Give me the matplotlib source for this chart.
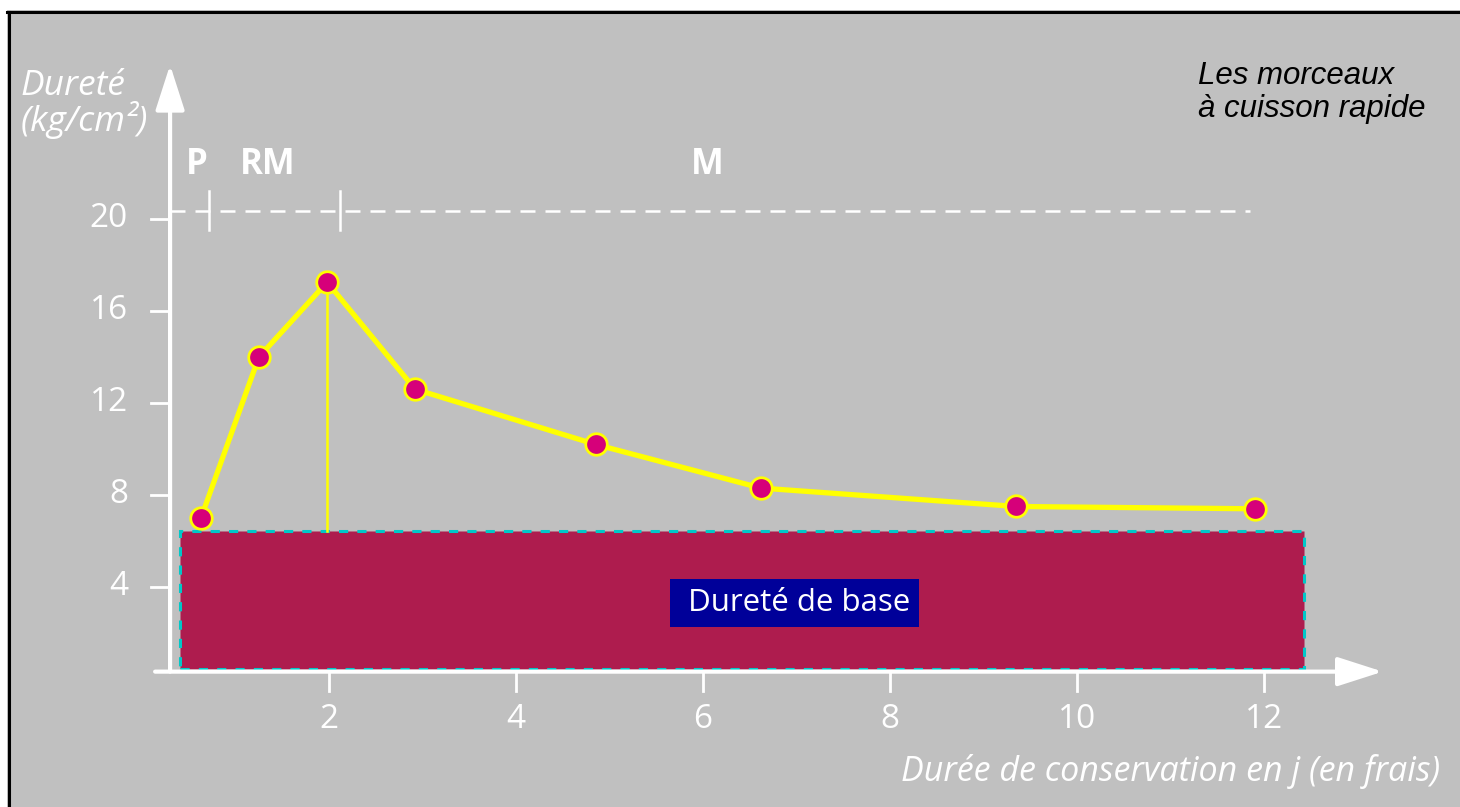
import matplotlib.pyplot as plt
from matplotlib.patches import Rectangle

# data
jours = [0.63, 1.25, 1.98, 2.92, 4.85, 6.62, 9.35, 11.9]
durete = [7.0, 14.0, 17.25, 12.6, 10.2, 8.3, 7.5, 7.4]
xticks = [2, 4, 6, 8, 10, 12]
yticks = [4, 8, 12, 16, 20]
base_x = [0.41, 12.43]
base_y = [0.45, 6.45]
phases = ["P", "RM", "M"]
phase_x = [0.59, 1.34, 6.04]
phase_limits = [0.72, 2.12]

bg = "#c0c0c0"
plt.rcParams["font.family"] = ["Open Sans", "DejaVu Sans"]

fig = plt.figure(figsize=(14.6, 8.07), dpi=100)
fig.patch.set_facecolor("white")
ax = fig.add_axes([0, 0, 1, 1])
ax.set_xlim(-1.519, 14.096)
ax.set_ylim(-5.565, 29.52)
ax.axis("off")

# grey panel with black border (left + top)
ax.add_patch(Rectangle((7 / 1460, 0), 1, 1 - 10 / 807, transform=fig.transFigure,
                       facecolor=bg, edgecolor="none", zorder=0))
ax.plot([8.5 / 1460, 8.5 / 1460], [0, 1 - 11.5 / 807], transform=fig.transFigure,
        color="black", lw=2.2, zorder=1)
ax.plot([7 / 1460, 1], [1 - 11.5 / 807, 1 - 11.5 / 807], transform=fig.transFigure,
        color="black", lw=2.2, zorder=1)

x0, y0 = 0.3, 0.32
# base hardness block
ax.add_patch(Rectangle((base_x[0], base_y[0]), base_x[1] - base_x[0], base_y[1] - base_y[0],
                       facecolor="#ae1c4e", edgecolor="#00c8c8", lw=2.2, ls=(0, (3, 3)), zorder=2))
ax.text(6.98, 3.3, " Dureté de base", color="white", fontsize=22.5, ha="center", va="center",
        bbox=dict(boxstyle="square,pad=0.3", facecolor="#000099", edgecolor="none"), zorder=3)

# axes with arrows
arrow = dict(arrowstyle="-|>,head_length=2.8,head_width=0.9", color="white", lw=3,
             shrinkA=0, shrinkB=0)
ax.annotate("", xy=(13.27, y0), xytext=(0.14, y0), arrowprops=arrow, zorder=4)
ax.annotate("", xy=(x0, 26.7), xytext=(x0, y0), arrowprops=arrow, zorder=4)
for t in xticks:
    ax.plot([t, t], [y0, y0 - 0.85], color="white", lw=2, zorder=4)
    ax.text(t, -1.75, str(t), color="white", fontsize=24, ha="center", va="center")
for t in yticks:
    ax.plot([x0 - 0.2, x0], [t, t], color="white", lw=2, zorder=4)
    ax.text(-0.15, t, str(t), color="white", fontsize=24, ha="right", va="center")

# phase line
ax.plot([x0, 11.85], [20.35, 20.35], color="white", lw=1.8, ls=(0, (6, 4)), zorder=3)
for t in phase_limits:
    ax.plot([t, t], [19.5, 21.2], color="white", lw=1.8, zorder=3)
for lab, px in zip(phases, phase_x):
    ax.text(px, 22.35, lab, color="white", fontsize=25, fontweight="bold", ha="center", va="center")

# curve
ax.plot([jours[2], jours[2]], [base_y[1], durete[2]], color="yellow", lw=1.8, zorder=4)
ax.plot(jours, durete, color="yellow", lw=3.8, zorder=5)
ax.plot(jours, durete, "o", ms=15.5, markerfacecolor="#d6007a", markeredgecolor="yellow",
        markeredgewidth=2, zorder=6)

# labels
ax.text(-1.3, 25.0, "Dureté\n(kg/cm²)", color="white", fontsize=25.5, style="italic",
        ha="left", va="center", linespacing=0.95)
ax.text(11.29, 25.5, "Les morceaux\nà cuisson rapide", color="black", fontsize=22.5,
        style="italic", family=["Liberation Sans", "DejaVu Sans"], ha="left", va="center",
        linespacing=1.15)
ax.text(13.88, -4.04, "Durée de conservation en j (en frais)", color="white", fontsize=24.5,
        style="italic", ha="right", va="center")

fig.savefig("out.png", dpi=100, facecolor=fig.get_facecolor())
